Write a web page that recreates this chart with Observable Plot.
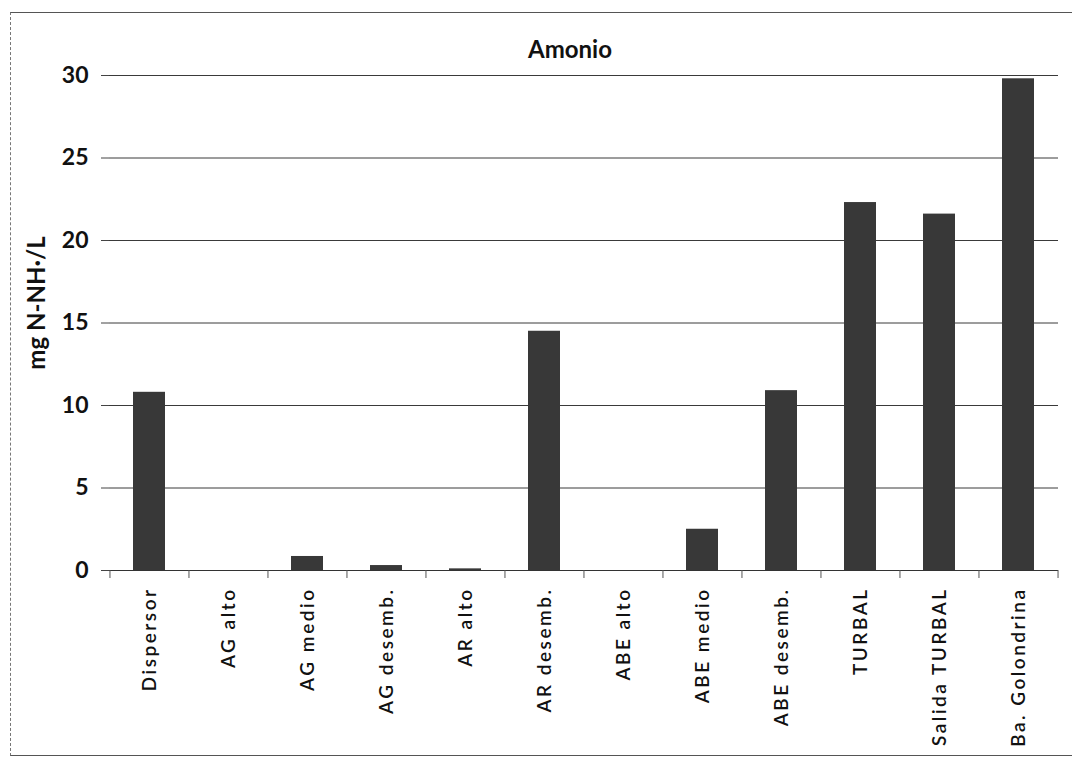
<!DOCTYPE html>
<html>
<head>
<meta charset="utf-8">
<script src="https://cdn.jsdelivr.net/npm/d3@7"></script>
<script src="https://cdn.jsdelivr.net/npm/@observablehq/plot@0.6"></script>
<style>
  html, body { margin: 0; padding: 0; background: #fff; }
  #wrap { position: relative; width: 1072px; height: 767px; overflow: hidden; }
  #frame { position: absolute; left: 10px; top: 12px; width: 1080px; height: 742px;
           border-left: 1px dashed #777; border-top: 1px solid #555; border-bottom: 1px solid #555; }
  #chart { position: absolute; left: 0; top: 0; }
  svg { font-family: Lato, "Open Sans", sans-serif; }
  g[aria-label="y-axis tick label"] text { font-weight: bold; }
  g[aria-label="x-axis tick label"] text { letter-spacing: 2.5px; font-weight: 600; }
</style>
</head>
<body>
<div id="wrap"><div id="frame"></div><div id="chart"></div></div>
<script>
const title = "Amonio";
const yLabel = "mg N-NH·/L";
const categories = ["Dispersor", "AG alto", "AG medio", "AG desemb.", "AR alto", "AR desemb.",
  "ABE alto", "ABE medio", "ABE desemb.", "TURBAL", "Salida TURBAL", "Ba. Golondrina"];
const values = [10.8, 0, 0.85, 0.3, 0.1, 14.5, 0, 2.5, 10.9, 22.3, 21.6, 29.8];
const yTicks = [0, 5, 10, 15, 20, 25, 30];

const data = categories.map((c, i) => ({cat: c, v: values[i]}));
const W = 1072, H = 767, mL = 109, mR = 14, mT = 75, mB = 197;
const step = (W - mL - mR) / categories.length;

const chart = Plot.plot({
  width: W, height: H,
  marginLeft: mL, marginRight: mR, marginTop: mT, marginBottom: mB,
  style: {background: "transparent", color: "#111"},
  x: {domain: categories, paddingInner: 0.6, paddingOuter: 0.3, align: 0.5},
  y: {domain: [0, 30]},
  marks: [
    Plot.ruleY(yTicks, {stroke: "#3a3a3a", strokeWidth: 1}),
    Plot.barY(data, {x: "cat", y: "v", fill: "#383838"}),
    Plot.ruleX([0], {stroke: "#444", strokeWidth: 1}),
    Plot.ruleY([0], {stroke: "#333", strokeWidth: 1.2}),
    Plot.ruleX(categories, {x: d => d, y1: 0, y2: 0, dx: -step / 2, insetBottom: -8, stroke: "#555"}),
    Plot.ruleX(categories.slice(-1), {x: d => d, y1: 0, y2: 0, dx: step / 2, insetBottom: -8, stroke: "#555"}),
    Plot.axisY({ticks: yTicks, tickSize: 8, tickPadding: 13, fontSize: 23, label: null, stroke: "#444"}),
    Plot.axisX({tickRotate: -90, tickSize: 0, tickPadding: 17, fontSize: 19, label: null, textAnchor: "end"}),
    Plot.text([yLabel], {frameAnchor: "left", rotate: -90, textAnchor: "middle", lineAnchor: "middle", dx: -72, dy: -20, fontSize: 24, fontWeight: "bold", fill: "#111"}),
    Plot.text([title], {frameAnchor: "top", textAnchor: "middle", lineAnchor: "middle", dx: -14, dy: -25, fontSize: 24, fontWeight: "bold", fill: "#111"})
  ]
});
document.getElementById("chart").appendChild(chart);
</script>
</body>
</html>
